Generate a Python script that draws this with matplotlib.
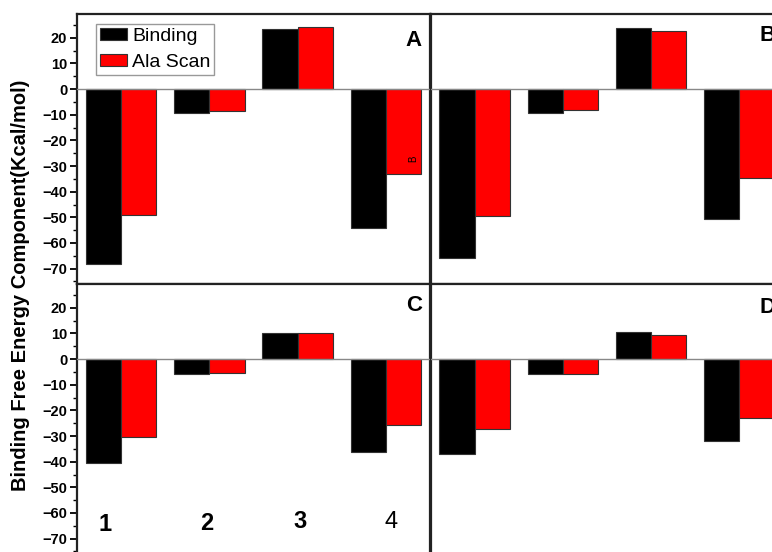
import matplotlib
matplotlib.use('Agg')
import matplotlib.pyplot as plt
import numpy as np

plt.rcParams['font.family'] = ['Liberation Sans', 'DejaVu Sans']

# --- data (kcal/mol), residues 1-4
residues = [1, 2, 3, 4]
residue_labels = ['1', '2', '3', '4']
panel_names = ['A', 'B', 'C', 'D']

binding_A = [-68.2, -9.2, 23.4, -54.1]
alascan_A = [-49.1, -8.6, 24.3, -33.1]
binding_B = [-65.8, -9.2, 24.0, -50.8]
alascan_B = [-49.5, -8.2, 22.7, -34.6]
binding_C = [-40.4, -5.7, 10.1, -36.1]
alascan_C = [-30.3, -5.5, 10.0, -25.7]
binding_D = [-36.9, -5.8, 10.4, -31.8]
alascan_D = [-27.3, -5.7, 9.4, -22.9]

binding = [binding_A, binding_B, binding_C, binding_D]
alascan = [alascan_A, alascan_B, alascan_C, alascan_D]

# --- figure
W, H = 772, 552
fig = plt.figure(figsize=(W / 100, H / 100), dpi=100)


def px_axes(left, top, width, height):
    return fig.add_axes([left / W, 1 - (top + height) / H, width / W, height / H])


pw, ph = 353, 270
ax_A = px_axes(77, 14, pw, ph)
ax_B = px_axes(430.5, 14, pw, ph)
ax_C = px_axes(77, 284, pw, ph)
ax_D = px_axes(430.5, 284, pw, ph)
axes = [ax_A, ax_B, ax_C, ax_D]

x = np.array(residues)
bw = 0.4
letter_y = [0.902, 0.922, 0.922, 0.913]

for i, ax in enumerate(axes):
    ax.bar(x - bw / 2, binding[i], bw, color='black', edgecolor='#333333',
           linewidth=0.8, label='Binding', zorder=2)
    ax.bar(x + bw / 2, alascan[i], bw, color='#ff0000', edgecolor='#333333',
           linewidth=0.8, label='Ala Scan', zorder=2)
    ax.axhline(0, color='#888888', linewidth=1.0, zorder=3)
    ax.set_xlim(0.5, 4.5)
    ax.set_ylim(-76, 29.3)
    ax.set_xticks([])
    for s in ax.spines.values():
        s.set_linewidth(1.6)
        s.set_color('#222222')
    ax.text(0.977, letter_y[i], panel_names[i], transform=ax.transAxes,
            ha='right', va='center', fontsize=16, fontweight='bold')
    if i in (0, 2):
        ax.set_yticks(np.arange(-70, 30, 10))
        ax.set_yticks(np.arange(-75, 30, 5), minor=True)
        ax.tick_params(axis='y', which='major', length=5, width=1.3,
                       labelsize=10.5, pad=2)
        ax.tick_params(axis='y', which='minor', length=3, width=1.0)
        for t in ax.get_yticklabels():
            t.set_fontweight('bold')
    else:
        ax.set_yticks([])

# legend in panel A
ax_A.legend(loc='upper left', bbox_to_anchor=(0.054, 0.963), fontsize=14,
            frameon=True, fancybox=False, edgecolor='#999999', framealpha=1,
            handlelength=1.4, handleheight=0.55, handletextpad=0.25,
            borderpad=0.2, labelspacing=0.45, borderaxespad=0)

# stray label on the last Ala Scan bar
ax_A.text(4.31, -27.0, 'B', rotation=90, fontsize=7, ha='center', va='center',
          zorder=4)

# residue numbers inside panel C
label_pos = [0.82, 1.97, 3.03, 4.06]
label_y = [-64.6, -64.0, -63.5, -63.5]
for k, lab in enumerate(residue_labels):
    ax_C.text(label_pos[k], label_y[k], lab, ha='center', va='center', fontsize=17,
              fontweight='normal' if lab == '4' else 'bold')

fig.text(21 / W, 1 - 285 / H, 'Binding Free Energy Component(Kcal/mol)',
         rotation=90, ha='center', va='center', fontsize=14.5, fontweight='bold')

fig.savefig('out.png', dpi=100)
